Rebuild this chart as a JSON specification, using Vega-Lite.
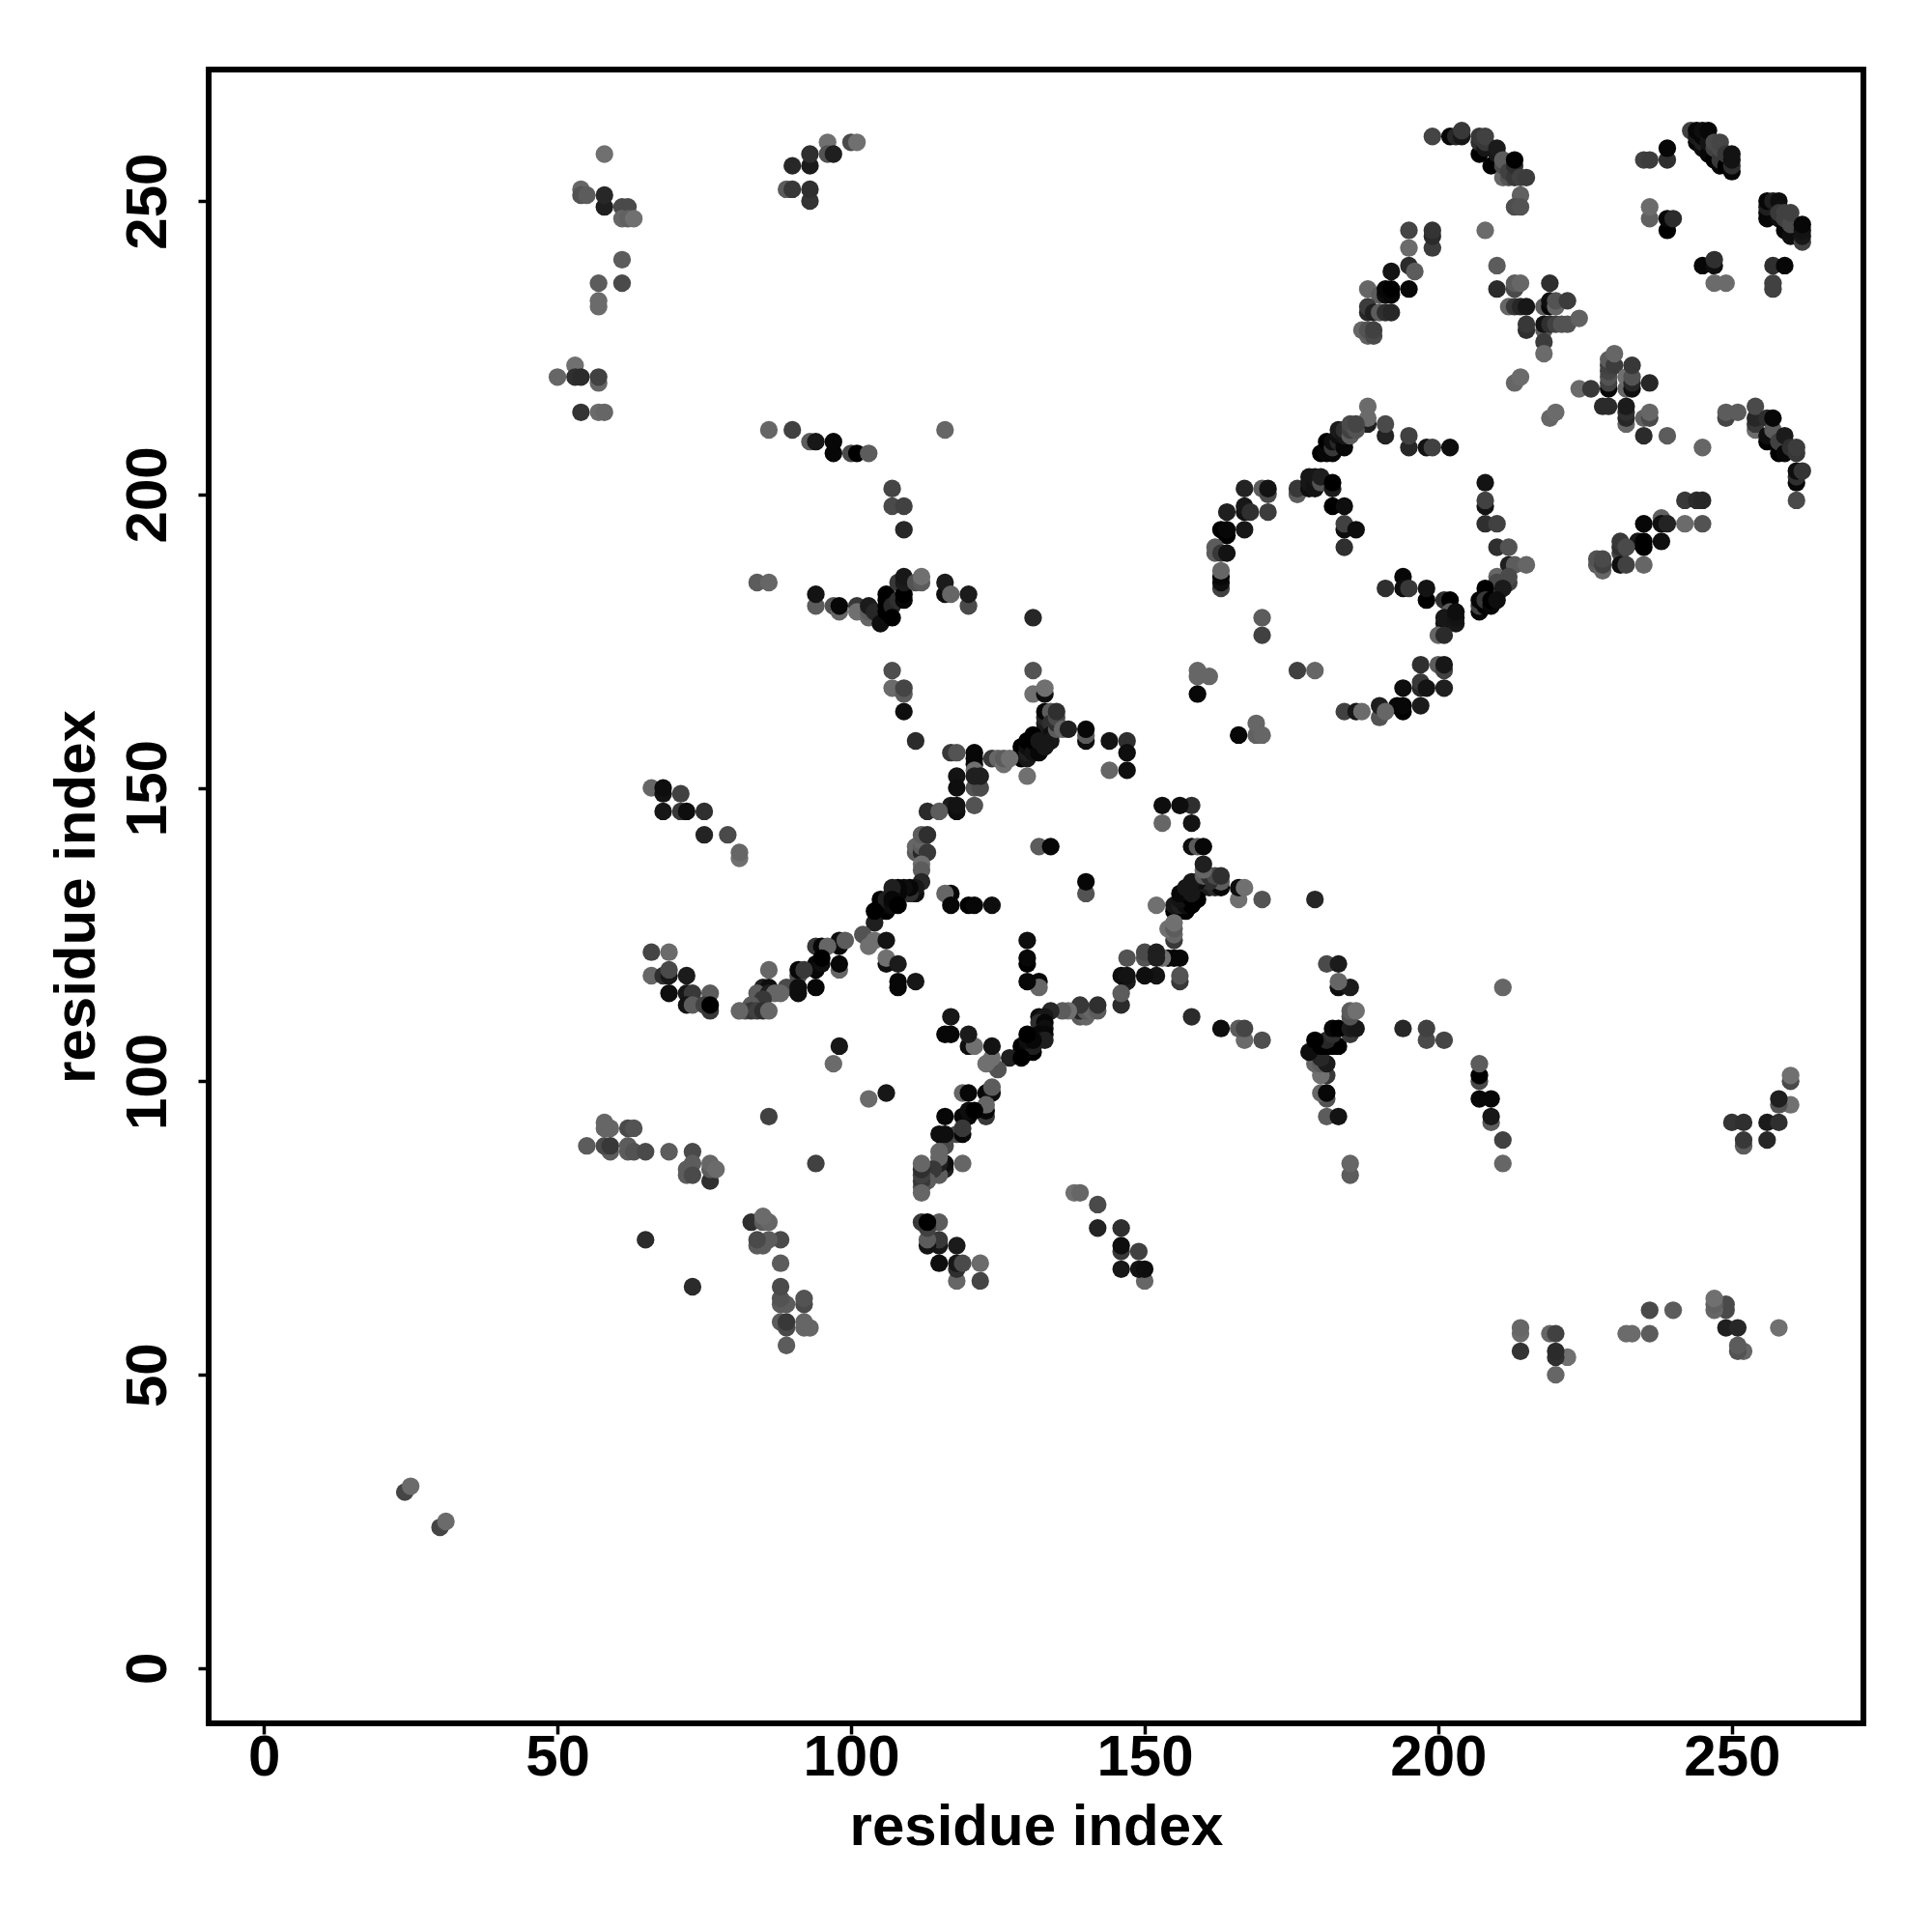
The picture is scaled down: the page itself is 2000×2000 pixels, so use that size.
{"$schema":"https://vega.github.io/schema/vega-lite/v6.json","autosize":"none","width":1713,"height":1712,"padding":{"left":216,"top":72,"right":71,"bottom":216},"background":"white","config":{"view":{"stroke":"#000","strokeWidth":6},"font":"Liberation Sans"},"data":{"values":[
{"i":24,"j":30,"g":75},{"i":25,"j":31,"g":115},{"i":50,"j":220,"g":110},{"i":53,"j":222,"g":120},{"i":53,"j":220,"g":50},{"i":54,"j":220,"g":45},{"i":57,"j":219,"g":110},{"i":57,"j":220,"g":70},{"i":54,"j":214,"g":55},{"i":57,"j":214,"g":115},{"i":58,"j":214,"g":110},{"i":54,"j":252,"g":110},{"i":54,"j":251,"g":90},{"i":55,"j":251,"g":100},{"i":58,"j":258,"g":120},{"i":58,"j":249,"g":30},{"i":58,"j":251,"g":40},{"i":61,"j":249,"g":80},{"i":62,"j":249,"g":80},{"i":61,"j":247,"g":110},{"i":62,"j":247,"g":105},{"i":63,"j":247,"g":120},{"i":61,"j":240,"g":100},{"i":57,"j":236,"g":100},{"i":61,"j":236,"g":80},{"i":57,"j":233,"g":115},{"i":57,"j":232,"g":115},{"i":89,"j":252,"g":100},{"i":90,"j":252,"g":60},{"i":93,"j":250,"g":55},{"i":93,"j":252,"g":50},{"i":90,"j":256,"g":40},{"i":93,"j":256,"g":25},{"i":93,"j":258,"g":50},{"i":96,"j":260,"g":120},{"i":96,"j":258,"g":90},{"i":97,"j":258,"g":30},{"i":100,"j":260,"g":80},{"i":101,"j":260,"g":120},{"i":86,"j":211,"g":110},{"i":90,"j":211,"g":70},{"i":93,"j":209,"g":100},{"i":94,"j":209,"g":20},{"i":97,"j":207,"g":5},{"i":97,"j":209,"g":5},{"i":100,"j":207,"g":80},{"i":101,"j":207,"g":0},{"i":103,"j":207,"g":100},{"i":107,"j":201,"g":75},{"i":107,"j":198,"g":80},{"i":109,"j":198,"g":70},{"i":109,"j":194,"g":40},{"i":116,"j":211,"g":110},
{"i":84,"j":185,"g":100},{"i":86,"j":185,"g":110},{"i":94,"j":181,"g":100},{"i":94,"j":183,"g":15},{"i":97,"j":181,"g":90},{"i":98,"j":180,"g":110},{"i":98,"j":181,"g":5},{"i":101,"j":181,"g":60},{"i":101,"j":180,"g":120},{"i":103,"j":179,"g":110},{"i":103,"j":180,"g":100},{"i":103,"j":181,"g":25},{"i":104,"j":180,"g":40},{"i":105,"j":178,"g":10},{"i":106,"j":180,"g":0},{"i":106,"j":181,"g":0},{"i":106,"j":182,"g":0},{"i":106,"j":183,"g":0},{"i":107,"j":181,"g":40},{"i":107,"j":179,"g":0},{"i":108,"j":182,"g":50},{"i":108,"j":185,"g":60},{"i":109,"j":182,"g":5},{"i":109,"j":183,"g":0},{"i":109,"j":185,"g":25},{"i":109,"j":186,"g":20},{"i":111,"j":185,"g":90},{"i":112,"j":185,"g":100},{"i":112,"j":186,"g":120},{"i":116,"j":183,"g":10},{"i":116,"j":185,"g":25},{"i":117,"j":183,"g":110},{"i":120,"j":181,"g":80},{"i":120,"j":183,"g":25},{"i":131,"j":179,"g":40},{"i":107,"j":170,"g":85},{"i":107,"j":167,"g":115},{"i":109,"j":166,"g":100},{"i":109,"j":167,"g":75},{"i":109,"j":163,"g":10},{"i":111,"j":158,"g":45},{"i":131,"j":170,"g":90},{"i":131,"j":166,"g":120},{"i":133,"j":166,"g":10},{"i":133,"j":167,"g":120},{"i":133,"j":159,"g":30},{"i":133,"j":160,"g":40},{"i":133,"j":161,"g":25},{"i":133,"j":162,"g":40},{"i":133,"j":163,"g":5},{"i":134,"j":163,"g":100},{"i":134,"j":161,"g":50},{"i":134,"j":159,"g":10},{"i":134,"j":158,"g":20},{"i":135,"j":160,"g":100},{"i":135,"j":161,"g":50},{"i":135,"j":162,"g":80},{"i":135,"j":163,"g":50},{"i":136,"j":160,"g":110},{"i":137,"j":160,"g":30},{"i":140,"j":158,"g":10},{"i":140,"j":159,"g":100},{"i":140,"j":160,"g":5},{"i":144,"j":158,"g":15},{"i":147,"j":158,"g":50},{"i":147,"j":156,"g":10},{"i":147,"j":153,"g":10},{"i":144,"j":153,"g":110},
{"i":129,"j":155,"g":0},{"i":129,"j":156,"g":10},{"i":129,"j":157,"g":0},{"i":130,"j":155,"g":20},{"i":130,"j":156,"g":30},{"i":130,"j":157,"g":10},{"i":130,"j":158,"g":0},{"i":131,"j":156,"g":15},{"i":131,"j":158,"g":0},{"i":131,"j":159,"g":0},{"i":132,"j":156,"g":5},{"i":132,"j":158,"g":20},{"i":133,"j":157,"g":20},{"i":124,"j":155,"g":60},{"i":125,"j":155,"g":110},{"i":126,"j":154,"g":120},{"i":126,"j":155,"g":100},{"i":127,"j":155,"g":120},{"i":130,"j":152,"g":120},{"i":117,"j":156,"g":60},{"i":118,"j":156,"g":90},{"i":121,"j":154,"g":10},{"i":121,"j":155,"g":5},{"i":121,"j":156,"g":5},{"i":121,"j":153,"g":120},{"i":118,"j":152,"g":15},{"i":118,"j":150,"g":10},{"i":121,"j":150,"g":90},{"i":122,"j":150,"g":80},{"i":122,"j":152,"g":30},{"i":121,"j":147,"g":90},{"i":117,"j":147,"g":25},{"i":118,"j":146,"g":10},{"i":118,"j":147,"g":15},{"i":113,"j":146,"g":45},{"i":115,"j":146,"g":100},{"i":111,"j":139,"g":100},{"i":111,"j":140,"g":110},{"i":112,"j":139,"g":40},{"i":112,"j":140,"g":100},{"i":112,"j":141,"g":110},{"i":112,"j":142,"g":100},{"i":113,"j":142,"g":50},{"i":113,"j":139,"g":60},{"i":112,"j":137,"g":120},{"i":112,"j":136,"g":100},{"i":112,"j":134,"g":40},{"i":111,"j":132,"g":10},{"i":111,"j":133,"g":20},{"i":110,"j":132,"g":50},{"i":110,"j":133,"g":5},{"i":109,"j":133,"g":10},{"i":108,"j":132,"g":5},{"i":108,"j":133,"g":5},{"i":107,"j":132,"g":10},{"i":107,"j":133,"g":30},{"i":105,"j":129,"g":15},{"i":105,"j":130,"g":10},{"i":105,"j":131,"g":0},{"i":106,"j":129,"g":0},{"i":106,"j":130,"g":5},{"i":106,"j":131,"g":30},{"i":107,"j":130,"g":10},{"i":107,"j":131,"g":5},{"i":108,"j":130,"g":0},{"i":104,"j":127,"g":30},{"i":104,"j":129,"g":0},{"i":102,"j":125,"g":90},{"i":103,"j":124,"g":90},{"i":104,"j":124,"g":120},{"i":103,"j":123,"g":120},{"i":106,"j":124,"g":15},{"i":106,"j":120,"g":10},{"i":106,"j":121,"g":120},{"i":108,"j":120,"g":25},{"i":108,"j":116,"g":5},{"i":108,"j":117,"g":5},{"i":111,"j":117,"g":20},{"i":98,"j":119,"g":110},{"i":98,"j":120,"g":5},{"i":98,"j":123,"g":5},{"i":98,"j":124,"g":10},{"i":99,"j":124,"g":100},{"i":94,"j":123,"g":60},{"i":95,"j":123,"g":5},{"i":96,"j":123,"g":110},{"i":94,"j":119,"g":5},{"i":94,"j":120,"g":5},{"i":95,"j":120,"g":10},{"i":95,"j":121,"g":0},{"i":91,"j":118,"g":80},{"i":91,"j":119,"g":5},{"i":92,"j":119,"g":60},{"i":94,"j":116,"g":5},{"i":89,"j":116,"g":80},{"i":90,"j":116,"g":80},{"i":91,"j":115,"g":10},{"i":91,"j":116,"g":10},{"i":86,"j":119,"g":110},{"i":85,"j":116,"g":30},{"i":86,"j":116,"g":10},{"i":84,"j":115,"g":100},{"i":86,"j":115,"g":30},{"i":87,"j":115,"g":110},{"i":88,"j":115,"g":110},{"i":85,"j":114,"g":60},{"i":83,"j":113,"g":100},{"i":82,"j":112,"g":90},{"i":83,"j":112,"g":60},{"i":84,"j":112,"g":70},{"i":85,"j":112,"g":50},{"i":86,"j":112,"g":110},{"i":81,"j":112,"g":110},
{"i":66,"j":150,"g":110},{"i":68,"j":149,"g":15},{"i":68,"j":150,"g":10},{"i":71,"j":149,"g":70},{"i":68,"j":146,"g":20},{"i":71,"j":146,"g":60},{"i":72,"j":146,"g":10},{"i":75,"j":146,"g":50},{"i":75,"j":142,"g":35},{"i":79,"j":142,"g":80},{"i":81,"j":138,"g":120},{"i":81,"j":139,"g":110},{"i":66,"j":122,"g":75},{"i":69,"j":122,"g":115},{"i":66,"j":118,"g":110},{"i":68,"j":118,"g":50},{"i":69,"j":118,"g":20},{"i":69,"j":119,"g":80},{"i":72,"j":118,"g":25},{"i":69,"j":115,"g":10},{"i":72,"j":115,"g":20},{"i":73,"j":115,"g":60},{"i":76,"j":115,"g":100},{"i":72,"j":113,"g":15},{"i":73,"j":113,"g":100},{"i":75,"j":113,"g":70},{"i":76,"j":112,"g":60},{"i":76,"j":113,"g":0},{"i":58,"j":92,"g":110},{"i":58,"j":93,"g":110},{"i":59,"j":92,"g":110},{"i":62,"j":92,"g":80},{"i":63,"j":92,"g":90},{"i":55,"j":89,"g":100},{"i":59,"j":88,"g":100},{"i":58,"j":89,"g":80},{"i":59,"j":89,"g":60},{"i":62,"j":88,"g":100},{"i":62,"j":89,"g":100},{"i":63,"j":88,"g":90},{"i":65,"j":88,"g":80},{"i":69,"j":88,"g":100},{"i":73,"j":88,"g":80},{"i":73,"j":86,"g":100},{"i":72,"j":84,"g":100},{"i":72,"j":85,"g":100},{"i":73,"j":84,"g":80},{"i":76,"j":83,"g":50},{"i":76,"j":85,"g":100},{"i":76,"j":86,"g":110},{"i":77,"j":85,"g":115},{"i":65,"j":73,"g":45},{"i":86,"j":94,"g":70},{"i":97,"j":103,"g":115},{"i":98,"j":106,"g":20},{"i":117,"j":132,"g":5},{"i":116,"j":132,"g":110},{"i":117,"j":130,"g":5},{"i":120,"j":130,"g":0},{"i":121,"j":130,"g":5},{"i":124,"j":130,"g":10},{"i":132,"j":140,"g":100},{"i":134,"j":140,"g":5},{"i":121,"j":152,"g":30},
{"i":188,"j":212,"g":30},{"i":188,"j":213,"g":115},{"i":188,"j":215,"g":115},{"i":191,"j":210,"g":35},{"i":191,"j":212,"g":80},{"i":195,"j":208,"g":40},{"i":195,"j":210,"g":70},{"i":198,"j":208,"g":15},{"i":199,"j":208,"g":70},{"i":202,"j":208,"g":10},{"i":180,"j":207,"g":0},{"i":181,"j":207,"g":5},{"i":181,"j":208,"g":5},{"i":181,"j":209,"g":0},{"i":182,"j":207,"g":5},{"i":182,"j":208,"g":60},{"i":182,"j":209,"g":10},{"i":183,"j":209,"g":40},{"i":183,"j":210,"g":10},{"i":183,"j":211,"g":25},{"i":184,"j":208,"g":5},{"i":184,"j":210,"g":20},{"i":184,"j":211,"g":50},{"i":185,"j":210,"g":100},{"i":185,"j":211,"g":70},{"i":185,"j":212,"g":80},{"i":186,"j":211,"g":90},{"i":186,"j":212,"g":75},{"i":176,"j":200,"g":100},{"i":176,"j":201,"g":60},{"i":178,"j":201,"g":10},{"i":178,"j":202,"g":20},{"i":178,"j":203,"g":20},{"i":179,"j":201,"g":15},{"i":179,"j":202,"g":15},{"i":179,"j":203,"g":20},{"i":180,"j":202,"g":90},{"i":180,"j":203,"g":30},{"i":182,"j":201,"g":25},{"i":182,"j":202,"g":0},{"i":182,"j":198,"g":0},{"i":184,"j":198,"g":10},{"i":184,"j":194,"g":10},{"i":184,"j":195,"g":70},{"i":186,"j":194,"g":10},{"i":184,"j":191,"g":50},{"i":167,"j":201,"g":35},{"i":170,"j":201,"g":100},{"i":171,"j":200,"g":80},{"i":171,"j":201,"g":15},{"i":167,"j":197,"g":15},{"i":167,"j":198,"g":20},{"i":168,"j":197,"g":50},{"i":171,"j":197,"g":65},{"i":164,"j":197,"g":30},{"i":163,"j":194,"g":0},{"i":164,"j":193,"g":0},{"i":164,"j":194,"g":5},{"i":167,"j":194,"g":20},{"i":162,"j":191,"g":100},{"i":162,"j":190,"g":100},{"i":163,"j":190,"g":60},{"i":164,"j":190,"g":15},{"i":163,"j":184,"g":70},{"i":163,"j":185,"g":10},{"i":163,"j":186,"g":5},{"i":163,"j":187,"g":110},{"i":191,"j":184,"g":50},{"i":194,"j":186,"g":5},{"i":194,"j":184,"g":10},{"i":195,"j":184,"g":60},{"i":198,"j":182,"g":0},{"i":198,"j":184,"g":15},{"i":201,"j":182,"g":50},{"i":202,"j":182,"g":0},{"i":202,"j":180,"g":100},{"i":201,"j":178,"g":15},{"i":201,"j":179,"g":20},{"i":203,"j":178,"g":20},{"i":203,"j":179,"g":15},{"i":203,"j":180,"g":10},{"i":200,"j":176,"g":110},{"i":201,"j":176,"g":45},{"i":208,"j":202,"g":15},{"i":208,"j":198,"g":15},{"i":208,"j":199,"g":70},{"i":208,"j":195,"g":50},{"i":210,"j":195,"g":70},{"i":210,"j":191,"g":50},{"i":212,"j":191,"g":90},{"i":212,"j":188,"g":30},{"i":213,"j":188,"g":100},{"i":215,"j":188,"g":110},{"i":210,"j":186,"g":110},{"i":212,"j":185,"g":70},{"i":212,"j":186,"g":80},{"i":210,"j":184,"g":100},{"i":210,"j":185,"g":80},{"i":211,"j":184,"g":25},{"i":208,"j":184,"g":0},{"i":207,"j":180,"g":5},{"i":207,"j":181,"g":70},{"i":207,"j":182,"g":5},{"i":208,"j":181,"g":0},{"i":208,"j":182,"g":60},{"i":209,"j":181,"g":5},{"i":209,"j":182,"g":0},{"i":210,"j":182,"g":10},{"i":197,"j":171,"g":50},{"i":200,"j":171,"g":100},{"i":201,"j":170,"g":70},{"i":201,"j":171,"g":20},{"i":197,"j":167,"g":40},{"i":197,"j":168,"g":60},{"i":198,"j":167,"g":15},{"i":201,"j":167,"g":30},{"i":194,"j":167,"g":10},{"i":197,"j":164,"g":25},{"i":193,"j":164,"g":5},{"i":194,"j":163,"g":0},{"i":194,"j":164,"g":5},{"i":190,"j":162,"g":90},{"i":190,"j":164,"g":30},{"i":191,"j":163,"g":110},{"i":184,"j":163,"g":70},{"i":186,"j":163,"g":20},{"i":187,"j":163,"g":115},{"i":170,"j":179,"g":100},{"i":170,"j":176,"g":70},{"i":176,"j":170,"g":70},{"i":179,"j":170,"g":110},{"i":159,"j":169,"g":110},{"i":159,"j":170,"g":110},{"i":161,"j":169,"g":110},{"i":159,"j":166,"g":5},{"i":166,"j":159,"g":5},{"i":169,"j":159,"g":105},{"i":169,"j":161,"g":110},{"i":170,"j":159,"g":110},
{"i":199,"j":261,"g":75},{"i":202,"j":261,"g":5},{"i":203,"j":261,"g":40},{"i":204,"j":261,"g":20},{"i":204,"j":262,"g":60},{"i":207,"j":258,"g":0},{"i":207,"j":260,"g":50},{"i":207,"j":261,"g":60},{"i":208,"j":259,"g":20},{"i":208,"j":260,"g":60},{"i":208,"j":261,"g":70},{"i":209,"j":256,"g":0},{"i":210,"j":258,"g":20},{"i":210,"j":259,"g":25},{"i":211,"j":254,"g":110},{"i":211,"j":256,"g":80},{"i":211,"j":257,"g":100},{"i":212,"j":254,"g":90},{"i":212,"j":255,"g":70},{"i":213,"j":254,"g":60},{"i":213,"j":256,"g":50},{"i":213,"j":257,"g":0},{"i":214,"j":254,"g":70},{"i":215,"j":254,"g":65},{"i":214,"j":251,"g":105},{"i":213,"j":249,"g":85},{"i":214,"j":249,"g":90},{"i":208,"j":245,"g":115},{"i":195,"j":245,"g":75},{"i":195,"j":242,"g":115},{"i":199,"j":242,"g":65},{"i":199,"j":244,"g":45},{"i":199,"j":245,"g":55},{"i":195,"j":239,"g":45},{"i":196,"j":238,"g":100},{"i":192,"j":238,"g":15},{"i":195,"j":235,"g":5},{"i":188,"j":235,"g":110},{"i":190,"j":234,"g":100},{"i":191,"j":234,"g":10},{"i":191,"j":235,"g":5},{"i":192,"j":234,"g":5},{"i":192,"j":235,"g":0},{"i":188,"j":231,"g":40},{"i":188,"j":232,"g":65},{"i":189,"j":231,"g":30},{"i":190,"j":231,"g":100},{"i":191,"j":231,"g":50},{"i":192,"j":231,"g":40},{"i":187,"j":228,"g":110},{"i":188,"j":227,"g":105},{"i":188,"j":228,"g":90},{"i":189,"j":227,"g":80},{"i":189,"j":228,"g":70},{"i":210,"j":239,"g":100},{"i":210,"j":235,"g":45},{"i":213,"j":235,"g":80},{"i":213,"j":236,"g":100},{"i":214,"j":236,"g":110},{"i":219,"j":236,"g":50},{"i":212,"j":232,"g":110},{"i":213,"j":232,"g":60},{"i":214,"j":232,"g":40},{"i":215,"j":232,"g":20},{"i":218,"j":232,"g":100},{"i":219,"j":232,"g":5},{"i":219,"j":233,"g":10},{"i":220,"j":232,"g":110},{"i":220,"j":233,"g":90},{"i":222,"j":233,"g":65},{"i":215,"j":228,"g":50},{"i":215,"j":229,"g":60},{"i":218,"j":228,"g":100},{"i":218,"j":229,"g":15},{"i":219,"j":229,"g":50},{"i":220,"j":229,"g":70},{"i":221,"j":229,"g":90},{"i":222,"j":229,"g":90},{"i":224,"j":230,"g":105},{"i":218,"j":226,"g":65},{"i":218,"j":224,"g":115},{"i":213,"j":219,"g":110},{"i":214,"j":220,"g":115},{"i":219,"j":213,"g":110},{"i":220,"j":214,"g":115},
{"i":224,"j":218,"g":115},{"i":226,"j":218,"g":60},{"i":229,"j":218,"g":5},{"i":228,"j":215,"g":45},{"i":229,"j":215,"g":45},{"i":229,"j":219,"g":70},{"i":229,"j":220,"g":90},{"i":229,"j":221,"g":75},{"i":229,"j":222,"g":70},{"i":229,"j":223,"g":100},{"i":230,"j":222,"g":65},{"i":230,"j":224,"g":110},{"i":232,"j":218,"g":110},{"i":232,"j":220,"g":120},{"i":233,"j":218,"g":10},{"i":233,"j":219,"g":40},{"i":233,"j":220,"g":90},{"i":233,"j":222,"g":60},{"i":232,"j":212,"g":110},{"i":232,"j":213,"g":40},{"i":232,"j":214,"g":50},{"i":232,"j":215,"g":25},{"i":236,"j":219,"g":40},{"i":235,"j":213,"g":105},{"i":236,"j":213,"g":80},{"i":236,"j":214,"g":110},{"i":235,"j":210,"g":45},{"i":239,"j":210,"g":100},{"i":245,"j":208,"g":110},{"i":249,"j":213,"g":75},{"i":249,"j":214,"g":100},{"i":251,"j":214,"g":100},{"i":254,"j":211,"g":115},{"i":254,"j":212,"g":60},{"i":254,"j":213,"g":40},{"i":254,"j":215,"g":80},{"i":256,"j":209,"g":0},{"i":256,"j":210,"g":10},{"i":256,"j":213,"g":50},{"i":257,"j":211,"g":100},{"i":257,"j":213,"g":5},{"i":258,"j":207,"g":0},{"i":258,"j":209,"g":70},{"i":259,"j":207,"g":5},{"i":259,"j":210,"g":25},{"i":260,"j":208,"g":50},{"i":261,"j":207,"g":60},{"i":261,"j":208,"g":65},{"i":261,"j":202,"g":5},{"i":261,"j":203,"g":50},{"i":261,"j":204,"g":10},{"i":262,"j":204,"g":55},{"i":261,"j":199,"g":80},{"i":242,"j":199,"g":60},{"i":244,"j":199,"g":45},{"i":245,"j":199,"g":40},{"i":242,"j":195,"g":115},{"i":245,"j":195,"g":90},{"i":235,"j":195,"g":5},{"i":238,"j":196,"g":105},{"i":238,"j":195,"g":10},{"i":239,"j":195,"g":35},{"i":234,"j":192,"g":20},{"i":235,"j":191,"g":0},{"i":235,"j":192,"g":0},{"i":238,"j":192,"g":10},{"i":231,"j":190,"g":70},{"i":231,"j":191,"g":50},{"i":231,"j":192,"g":60},{"i":232,"j":191,"g":80},{"i":231,"j":188,"g":10},{"i":232,"j":188,"g":70},{"i":235,"j":188,"g":110},{"i":227,"j":188,"g":100},{"i":227,"j":189,"g":90},{"i":228,"j":187,"g":110},{"i":228,"j":188,"g":70},{"i":228,"j":189,"g":80},{"i":239,"j":257,"g":50},{"i":239,"j":259,"g":5},{"i":235,"j":257,"g":70},{"i":236,"j":257,"g":65},{"i":236,"j":247,"g":105},{"i":236,"j":249,"g":115},{"i":239,"j":245,"g":0},{"i":239,"j":247,"g":5},{"i":240,"j":247,"g":45},{"i":245,"j":239,"g":5},{"i":247,"j":239,"g":10},{"i":247,"j":240,"g":50},{"i":247,"j":236,"g":115},{"i":249,"j":236,"g":115},{"i":257,"j":239,"g":50},{"i":259,"j":239,"g":5},{"i":257,"j":235,"g":70},{"i":257,"j":236,"g":70},{"i":243,"j":262,"g":70},{"i":244,"j":260,"g":5},{"i":244,"j":261,"g":25},{"i":244,"j":262,"g":5},{"i":245,"j":259,"g":10},{"i":245,"j":260,"g":30},{"i":245,"j":261,"g":5},{"i":245,"j":262,"g":10},{"i":246,"j":258,"g":5},{"i":246,"j":260,"g":15},{"i":246,"j":262,"g":5},{"i":247,"j":257,"g":0},{"i":247,"j":259,"g":70},{"i":247,"j":260,"g":80},{"i":248,"j":256,"g":5},{"i":248,"j":257,"g":60},{"i":248,"j":259,"g":80},{"i":248,"j":260,"g":75},{"i":249,"j":256,"g":0},{"i":249,"j":258,"g":60},{"i":250,"j":255,"g":5},{"i":250,"j":256,"g":50},{"i":250,"j":257,"g":15},{"i":250,"j":258,"g":15},{"i":256,"j":247,"g":5},{"i":256,"j":248,"g":5},{"i":256,"j":249,"g":30},{"i":256,"j":250,"g":5},{"i":257,"j":250,"g":30},{"i":258,"j":250,"g":10},{"i":258,"j":247,"g":10},{"i":258,"j":248,"g":60},{"i":259,"j":245,"g":5},{"i":259,"j":247,"g":70},{"i":259,"j":248,"g":70},{"i":260,"j":244,"g":10},{"i":260,"j":246,"g":80},{"i":260,"j":248,"g":70},{"i":262,"j":243,"g":70},{"i":262,"j":244,"g":20},{"i":262,"j":245,"g":15},{"i":262,"j":246,"g":5},
{"i":30,"j":24,"g":75},{"i":31,"j":25,"g":115},{"i":220,"j":50,"g":110},{"i":222,"j":53,"g":120},{"i":220,"j":53,"g":50},{"i":220,"j":54,"g":45},{"i":219,"j":57,"g":110},{"i":220,"j":57,"g":70},{"i":214,"j":54,"g":55},{"i":214,"j":57,"g":115},{"i":214,"j":58,"g":110},{"i":252,"j":54,"g":110},{"i":251,"j":54,"g":90},{"i":251,"j":55,"g":100},{"i":258,"j":58,"g":120},{"i":249,"j":58,"g":30},{"i":251,"j":58,"g":40},{"i":249,"j":61,"g":80},{"i":249,"j":62,"g":80},{"i":247,"j":61,"g":110},{"i":247,"j":62,"g":105},{"i":247,"j":63,"g":120},{"i":240,"j":61,"g":100},{"i":236,"j":57,"g":100},{"i":236,"j":61,"g":80},{"i":233,"j":57,"g":115},{"i":232,"j":57,"g":115},{"i":252,"j":89,"g":100},{"i":252,"j":90,"g":60},{"i":250,"j":93,"g":55},{"i":252,"j":93,"g":50},{"i":256,"j":90,"g":40},{"i":256,"j":93,"g":25},{"i":258,"j":93,"g":50},{"i":260,"j":96,"g":120},{"i":258,"j":96,"g":90},{"i":258,"j":97,"g":30},{"i":260,"j":100,"g":80},{"i":260,"j":101,"g":120},{"i":211,"j":86,"g":110},{"i":211,"j":90,"g":70},{"i":209,"j":93,"g":100},{"i":209,"j":94,"g":20},{"i":207,"j":97,"g":5},{"i":209,"j":97,"g":5},{"i":207,"j":100,"g":80},{"i":207,"j":101,"g":0},{"i":207,"j":103,"g":100},{"i":201,"j":107,"g":75},{"i":198,"j":107,"g":80},{"i":198,"j":109,"g":70},{"i":194,"j":109,"g":40},{"i":211,"j":116,"g":110},
{"i":185,"j":84,"g":100},{"i":185,"j":86,"g":110},{"i":181,"j":94,"g":100},{"i":183,"j":94,"g":15},{"i":181,"j":97,"g":90},{"i":180,"j":98,"g":110},{"i":181,"j":98,"g":5},{"i":181,"j":101,"g":60},{"i":180,"j":101,"g":120},{"i":179,"j":103,"g":110},{"i":180,"j":103,"g":100},{"i":181,"j":103,"g":25},{"i":180,"j":104,"g":40},{"i":178,"j":105,"g":10},{"i":180,"j":106,"g":0},{"i":181,"j":106,"g":0},{"i":182,"j":106,"g":0},{"i":183,"j":106,"g":0},{"i":181,"j":107,"g":40},{"i":179,"j":107,"g":0},{"i":182,"j":108,"g":50},{"i":185,"j":108,"g":60},{"i":182,"j":109,"g":5},{"i":183,"j":109,"g":0},{"i":185,"j":109,"g":25},{"i":186,"j":109,"g":20},{"i":185,"j":111,"g":90},{"i":185,"j":112,"g":100},{"i":186,"j":112,"g":120},{"i":183,"j":116,"g":10},{"i":185,"j":116,"g":25},{"i":183,"j":117,"g":110},{"i":181,"j":120,"g":80},{"i":183,"j":120,"g":25},{"i":179,"j":131,"g":40},{"i":170,"j":107,"g":85},{"i":167,"j":107,"g":115},{"i":166,"j":109,"g":100},{"i":167,"j":109,"g":75},{"i":163,"j":109,"g":10},{"i":158,"j":111,"g":45},{"i":170,"j":131,"g":90},{"i":166,"j":131,"g":120},{"i":166,"j":133,"g":10},{"i":167,"j":133,"g":120},{"i":159,"j":133,"g":30},{"i":160,"j":133,"g":40},{"i":161,"j":133,"g":25},{"i":162,"j":133,"g":40},{"i":163,"j":133,"g":5},{"i":163,"j":134,"g":100},{"i":161,"j":134,"g":50},{"i":159,"j":134,"g":10},{"i":158,"j":134,"g":20},{"i":160,"j":135,"g":100},{"i":161,"j":135,"g":50},{"i":162,"j":135,"g":80},{"i":163,"j":135,"g":50},{"i":160,"j":136,"g":110},{"i":160,"j":137,"g":30},{"i":158,"j":140,"g":10},{"i":159,"j":140,"g":100},{"i":160,"j":140,"g":5},{"i":158,"j":144,"g":15},{"i":158,"j":147,"g":50},{"i":156,"j":147,"g":10},{"i":153,"j":147,"g":10},{"i":153,"j":144,"g":110},
{"i":155,"j":129,"g":0},{"i":156,"j":129,"g":10},{"i":157,"j":129,"g":0},{"i":155,"j":130,"g":20},{"i":156,"j":130,"g":30},{"i":157,"j":130,"g":10},{"i":158,"j":130,"g":0},{"i":156,"j":131,"g":15},{"i":158,"j":131,"g":0},{"i":159,"j":131,"g":0},{"i":156,"j":132,"g":5},{"i":158,"j":132,"g":20},{"i":157,"j":133,"g":20},{"i":155,"j":124,"g":60},{"i":155,"j":125,"g":110},{"i":154,"j":126,"g":120},{"i":155,"j":126,"g":100},{"i":155,"j":127,"g":120},{"i":152,"j":130,"g":120},{"i":156,"j":117,"g":60},{"i":156,"j":118,"g":90},{"i":154,"j":121,"g":10},{"i":155,"j":121,"g":5},{"i":156,"j":121,"g":5},{"i":153,"j":121,"g":120},{"i":152,"j":118,"g":15},{"i":150,"j":118,"g":10},{"i":150,"j":121,"g":90},{"i":150,"j":122,"g":80},{"i":152,"j":122,"g":30},{"i":147,"j":121,"g":90},{"i":147,"j":117,"g":25},{"i":146,"j":118,"g":10},{"i":147,"j":118,"g":15},{"i":146,"j":113,"g":45},{"i":146,"j":115,"g":100},{"i":139,"j":111,"g":100},{"i":140,"j":111,"g":110},{"i":139,"j":112,"g":40},{"i":140,"j":112,"g":100},{"i":141,"j":112,"g":110},{"i":142,"j":112,"g":100},{"i":142,"j":113,"g":50},{"i":139,"j":113,"g":60},{"i":137,"j":112,"g":120},{"i":136,"j":112,"g":100},{"i":134,"j":112,"g":40},{"i":132,"j":111,"g":10},{"i":133,"j":111,"g":20},{"i":132,"j":110,"g":50},{"i":133,"j":110,"g":5},{"i":133,"j":109,"g":10},{"i":132,"j":108,"g":5},{"i":133,"j":108,"g":5},{"i":132,"j":107,"g":10},{"i":133,"j":107,"g":30},{"i":129,"j":105,"g":15},{"i":130,"j":105,"g":10},{"i":131,"j":105,"g":0},{"i":129,"j":106,"g":0},{"i":130,"j":106,"g":5},{"i":131,"j":106,"g":30},{"i":130,"j":107,"g":10},{"i":131,"j":107,"g":5},{"i":130,"j":108,"g":0},{"i":127,"j":104,"g":30},{"i":129,"j":104,"g":0},{"i":125,"j":102,"g":90},{"i":124,"j":103,"g":90},{"i":124,"j":104,"g":120},{"i":123,"j":103,"g":120},{"i":124,"j":106,"g":15},{"i":120,"j":106,"g":10},{"i":121,"j":106,"g":120},{"i":120,"j":108,"g":25},{"i":116,"j":108,"g":5},{"i":117,"j":108,"g":5},{"i":117,"j":111,"g":20},{"i":119,"j":98,"g":110},{"i":120,"j":98,"g":5},{"i":123,"j":98,"g":5},{"i":124,"j":98,"g":10},{"i":124,"j":99,"g":100},{"i":123,"j":94,"g":60},{"i":123,"j":95,"g":5},{"i":123,"j":96,"g":110},{"i":119,"j":94,"g":5},{"i":120,"j":94,"g":5},{"i":120,"j":95,"g":10},{"i":121,"j":95,"g":0},{"i":118,"j":91,"g":80},{"i":119,"j":91,"g":5},{"i":119,"j":92,"g":60},{"i":116,"j":94,"g":5},{"i":116,"j":89,"g":80},{"i":116,"j":90,"g":80},{"i":115,"j":91,"g":10},{"i":116,"j":91,"g":10},{"i":119,"j":86,"g":110},{"i":116,"j":85,"g":30},{"i":116,"j":86,"g":10},{"i":115,"j":84,"g":100},{"i":115,"j":86,"g":30},{"i":115,"j":87,"g":110},{"i":115,"j":88,"g":110},{"i":114,"j":85,"g":60},{"i":113,"j":83,"g":100},{"i":112,"j":82,"g":90},{"i":112,"j":83,"g":60},{"i":112,"j":84,"g":70},{"i":112,"j":85,"g":50},{"i":112,"j":86,"g":110},{"i":112,"j":81,"g":110},
{"i":150,"j":66,"g":110},{"i":149,"j":68,"g":15},{"i":150,"j":68,"g":10},{"i":149,"j":71,"g":70},{"i":146,"j":68,"g":20},{"i":146,"j":71,"g":60},{"i":146,"j":72,"g":10},{"i":146,"j":75,"g":50},{"i":142,"j":75,"g":35},{"i":142,"j":79,"g":80},{"i":138,"j":81,"g":120},{"i":139,"j":81,"g":110},{"i":122,"j":66,"g":75},{"i":122,"j":69,"g":115},{"i":118,"j":66,"g":110},{"i":118,"j":68,"g":50},{"i":118,"j":69,"g":20},{"i":119,"j":69,"g":80},{"i":118,"j":72,"g":25},{"i":115,"j":69,"g":10},{"i":115,"j":72,"g":20},{"i":115,"j":73,"g":60},{"i":115,"j":76,"g":100},{"i":113,"j":72,"g":15},{"i":113,"j":73,"g":100},{"i":113,"j":75,"g":70},{"i":112,"j":76,"g":60},{"i":113,"j":76,"g":0},{"i":92,"j":58,"g":110},{"i":93,"j":58,"g":110},{"i":92,"j":59,"g":110},{"i":92,"j":62,"g":80},{"i":92,"j":63,"g":90},{"i":89,"j":55,"g":100},{"i":88,"j":59,"g":100},{"i":89,"j":58,"g":80},{"i":89,"j":59,"g":60},{"i":88,"j":62,"g":100},{"i":89,"j":62,"g":100},{"i":88,"j":63,"g":90},{"i":88,"j":65,"g":80},{"i":88,"j":69,"g":100},{"i":88,"j":73,"g":80},{"i":86,"j":73,"g":100},{"i":84,"j":72,"g":100},{"i":85,"j":72,"g":100},{"i":84,"j":73,"g":80},{"i":83,"j":76,"g":50},{"i":85,"j":76,"g":100},{"i":86,"j":76,"g":110},{"i":85,"j":77,"g":115},{"i":73,"j":65,"g":45},{"i":94,"j":86,"g":70},{"i":103,"j":97,"g":115},{"i":106,"j":98,"g":20},{"i":132,"j":117,"g":5},{"i":132,"j":116,"g":110},{"i":130,"j":117,"g":5},{"i":130,"j":120,"g":0},{"i":130,"j":121,"g":5},{"i":130,"j":124,"g":10},{"i":140,"j":132,"g":90},{"i":140,"j":134,"g":5},{"i":152,"j":121,"g":30}
],"format":{"type":"json"}},"mark":{"type":"circle","size":335,"opacity":1},"encoding":{"x":{"field":"i","type":"quantitative","scale":{"domain":[-9.4,272.4],"nice":false,"zero":false},"axis":{"title":"residue index","values":[0,50,100,150,200,250],"grid":false,"domain":false,"tickColor":"#000","tickSize":11,"tickWidth":3.5,"labelFont":"Liberation Sans","labelFontWeight":"bold","labelFontSize":60,"labelColor":"#000","labelPadding":-5,"titleFont":"Liberation Sans","titleFontWeight":"bold","titleFontSize":60,"titleColor":"#000","titlePadding":13}},"y":{"field":"j","type":"quantitative","scale":{"domain":[-9.4,272.4],"nice":false,"zero":false},"axis":{"title":"residue index","values":[0,50,100,150,200,250],"grid":false,"domain":false,"tickColor":"#000","tickSize":11,"tickWidth":3.5,"labelFont":"Liberation Sans","labelFontWeight":"bold","labelFontSize":60,"labelColor":"#000","labelAngle":-90,"labelAlign":"center","labelBaseline":"bottom","labelPadding":21,"titleFont":"Liberation Sans","titleFontWeight":"bold","titleFontSize":60,"titleColor":"#000","titlePadding":13}},"color":{"field":"g","type":"quantitative","scale":{"domain":[0,255],"range":["#000000","#ffffff"]},"legend":null}}}
